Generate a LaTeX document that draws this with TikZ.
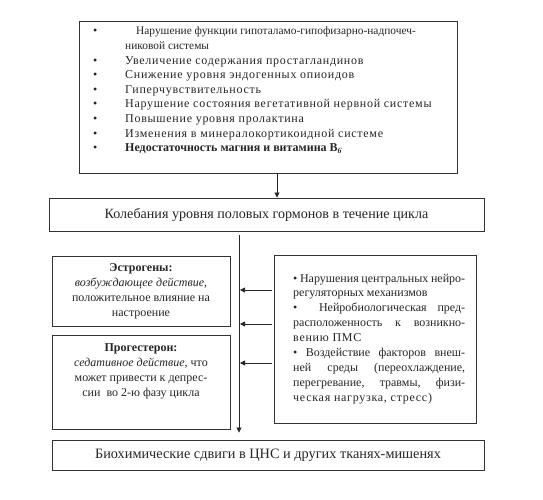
\documentclass[tikz,border=0pt]{standalone}
\usepackage{fontspec}
\setmainfont{Liberation Serif}
\newfontfamily\spc[LetterSpace=6]{Liberation Serif}
\usetikzlibrary{arrows.meta}
\begin{document}
\begin{tikzpicture}[x=1pt,y=-1pt,
  box/.style={draw=black!80, line width=0.9pt, inner sep=0pt},
  arr/.style={draw=black!85, line width=0.8pt, -{Triangle[length=5pt,width=5pt]}},
  txt/.style={inner sep=0pt, anchor=base west, text=black!85, font=\fontsize{12}{14.6}\selectfont},
  ctxt/.style={inner sep=0pt, anchor=base, text=black!85, font=\fontsize{12}{15}\selectfont},
  big/.style={inner sep=0pt, text=black!85}
]
\useasboundingbox (0,0) rectangle (543,500);
\fill[white] (0,0) rectangle (543,500);

% boxes
\node[box, minimum width=378pt, minimum height=152pt] (top) at (268,97) {};
\node[box, minimum width=435pt, minimum height=33pt] (horm) at (266.5,214.5) {};
\node[box, minimum width=178pt, minimum height=70pt] (estr) at (141,291) {};
\node[box, minimum width=178pt, minimum height=94pt] (prog) at (141,382) {};
\node[box, minimum width=202pt, minimum height=168pt] (right) at (375,339) {};
\node[box, minimum width=432pt, minimum height=30pt] (bot) at (268,455) {};

% texts
\node[txt] (toplist) at (93,35) {\begin{tabular}[t]{@{}p{32pt}@{}l@{}}
\textbullet & \hspace{11pt}{\fontsize{11.4}{14.6}\selectfont Нарушение функции гипоталамо-гипофизарно-надпочеч-}\\
 & {\fontsize{11.4}{14.6}\selectfont никовой системы}\\
\textbullet & {\spc Увеличение содержания простагландинов}\\
\textbullet & {\spc Снижение уровня эндогенных опиоидов}\\
\textbullet & {\spc Гиперчувствительность}\\
\textbullet & {\spc Нарушение состояния вегетативной нервной системы}\\
\textbullet & {\spc Повышение уровня пролактина}\\
\textbullet & {\spc Изменения в минералокортикоидной системе}\\
\textbullet & \textbf{Недостаточность магния и витамина B\textsubscript{\textit{6}}}
\end{tabular}};

\node[big, font=\fontsize{14.1}{16}\selectfont] (hormtext) at (horm) {Колебания уровня половых гормонов в течение цикла};
\node[big, font=\fontsize{14.3}{16}\selectfont] (bottext) at (bot) {Биохимические сдвиги в ЦНС и других тканях-мишенях};

\node[ctxt] (estrtext) at (141,271) {\begin{tabular}[t]{@{}c@{}}
\textbf{Эстрогены:}\\
\textit{возбуждающее действие},\\
положительное влияние на\\
настроение
\end{tabular}};

\node[ctxt] (progtext) at (141,351) {\begin{tabular}[t]{@{}c@{}}
\textbf{Прогестерон:}\\
\textit{седативное действие}, что\\
может привести к депрес-\\
сии\ \ во 2-ю фазу цикла
\end{tabular}};

\node[txt, font=\fontsize{12}{14.9}\selectfont] (righttext) at (293,282) {\begin{tabular}[t]{@{}l@{}}
\makebox[172pt][s]{\textbullet\ Нарушения центральных нейро-}\\
регуляторных механизмов\\
\makebox[172pt][s]{\textbullet\ \ Нейробиологическая пред-}\\
\makebox[172pt][s]{расположенность к возникно-}\\
{\spc вению ПМС}\\
\makebox[172pt][s]{\textbullet\ Воздействие факторов внеш-}\\
\makebox[172pt][s]{ней среды (переохлаждение,}\\
\makebox[172pt][s]{перегревание, травмы, физи-}\\
{\spc ческая нагрузка, стресс)}
\end{tabular}};

% connectors
\coordinate (tx) at (277,0);
\coordinate (v) at (239,0);
\coordinate (y1) at (0,290);
\coordinate (y2) at (0,324);
\coordinate (y3) at (0,363);
\draw[arr] (top.south -| tx) -- (horm.north -| tx);
\draw[arr] ([yshift=-4pt]horm.south -| v) -- ([yshift=7pt]bot.north -| v);
\draw[arr] ([xshift=-2pt]right.west |- y1) -- ([xshift=1pt]v |- y1);
\draw[arr] ([xshift=-2pt]right.west |- y2) -- ([xshift=1pt]v |- y2);
\draw[arr] ([xshift=-2pt]right.west |- y3) -- ([xshift=1pt]v |- y3);
\end{tikzpicture}
\end{document}
